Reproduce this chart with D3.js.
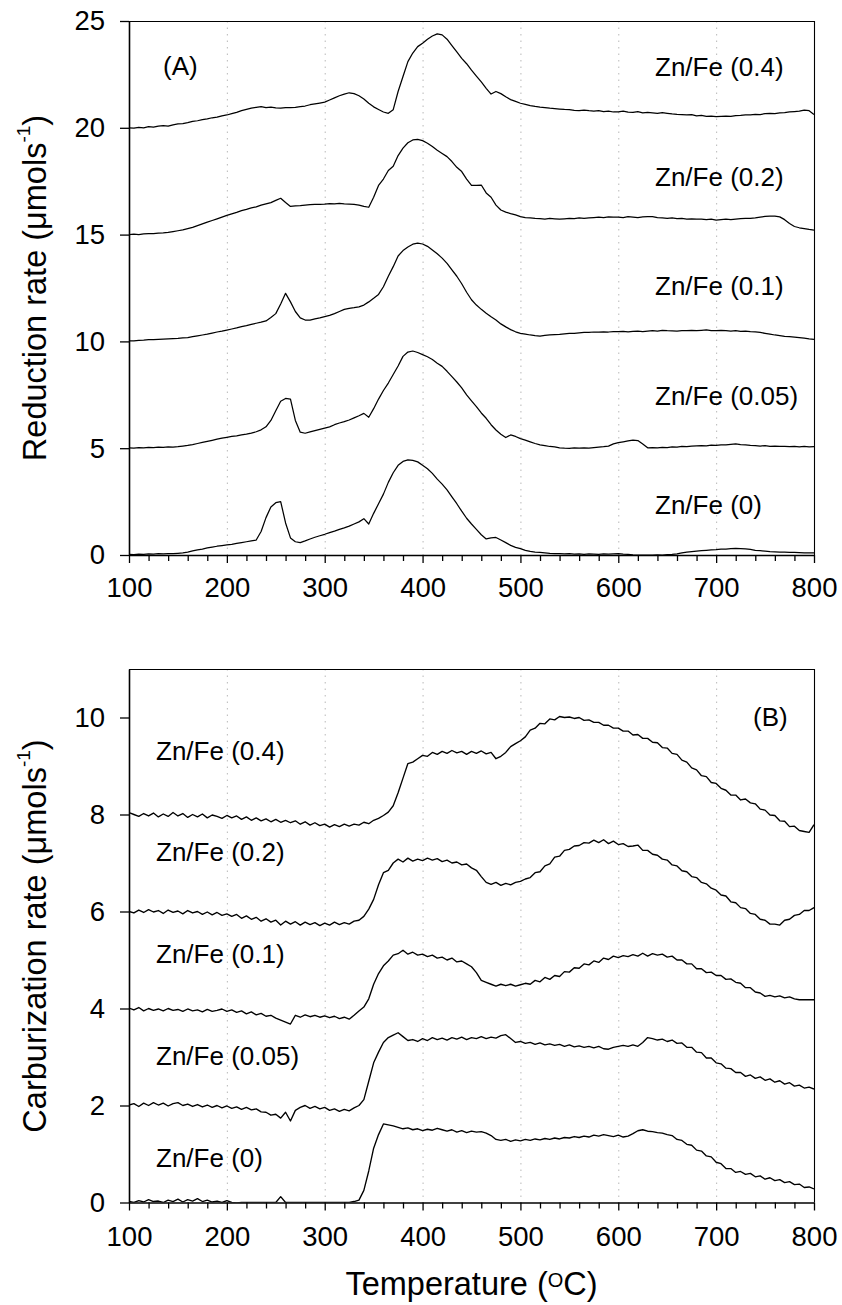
<!DOCTYPE html>
<html>
<head>
<meta charset="utf-8">
<script src="https://cdn.jsdelivr.net/npm/d3@7"></script>
<style>
  html, body { margin: 0; padding: 0; background: #fff; }
  svg { display: block; }
</style>
</head>
<body>
<svg id="chart" width="842" height="1305"></svg>
<script>
// Temperature grid (°C) shared by every trace
const temperature = [
  100,105,110,115,120,125,130,135,140,145,
  150,155,160,165,170,175,180,185,190,195,
  200,205,210,215,220,225,230,235,240,245,
  250,255,260,265,270,275,280,285,290,295,
  300,305,310,315,320,325,330,335,340,345,
  350,355,360,365,370,375,380,385,390,395,
  400,405,410,415,420,425,430,435,440,445,
  450,455,460,465,470,475,480,485,490,495,
  500,505,510,515,520,525,530,535,540,545,
  550,555,560,565,570,575,580,585,590,595,
  600,605,610,615,620,625,630,635,640,645,
  650,655,660,665,670,675,680,685,690,695,
  700,705,710,715,720,725,730,735,740,745,
  750,755,760,765,770,775,780,785,790,795,
  800
];

// (A) Reduction rate, curves stacked with offsets of 5
const redZn040 = [
  20.0,19.98,20.02,20.0,20.05,20.03,20.08,20.1,20.08,20.14,
  20.18,20.2,20.24,20.3,20.33,20.38,20.42,20.47,20.5,20.56,
  20.6,20.66,20.72,20.8,20.86,20.92,20.96,20.99,20.94,20.97,
  20.93,20.92,20.95,20.94,20.96,20.99,21.02,21.08,21.12,21.16,
  21.2,21.3,21.4,21.5,21.58,21.64,21.6,21.5,21.35,21.15,
  20.98,20.86,20.74,20.68,20.85,21.7,22.4,23.1,23.5,23.8,
  23.96,24.15,24.3,24.4,24.35,24.15,23.85,23.55,23.25,23.0,
  22.7,22.42,22.15,21.85,21.58,21.7,21.6,21.45,21.32,21.24,
  21.15,21.1,21.04,21.0,20.97,20.95,20.92,20.9,20.88,20.86,
  20.85,20.82,20.8,20.83,20.8,20.78,20.8,20.76,20.78,20.74,
  20.75,20.78,20.73,20.72,20.76,20.7,20.72,20.7,20.68,20.71,
  20.68,20.65,20.63,20.62,20.6,20.62,20.56,20.58,20.54,20.55,
  20.52,20.54,20.55,20.53,20.57,20.58,20.6,20.6,20.63,20.62,
  20.66,20.68,20.66,20.7,20.71,20.74,20.76,20.78,20.83,20.8,
  20.62
];
const redZn020 = [
  15.0,15.02,15.0,15.03,15.04,15.05,15.07,15.08,15.1,15.14,
  15.18,15.22,15.28,15.34,15.42,15.5,15.58,15.66,15.74,15.82,
  15.9,15.97,16.04,16.12,16.18,16.25,16.3,16.38,16.44,16.5,
  16.6,16.7,16.5,16.32,16.35,16.36,16.38,16.4,16.42,16.42,
  16.43,16.45,16.44,16.46,16.44,16.43,16.42,16.38,16.32,16.28,
  16.75,17.3,17.6,18.0,18.2,18.7,19.05,19.3,19.43,19.46,
  19.4,19.28,19.12,18.95,18.8,18.65,18.42,18.15,17.95,17.6,
  17.3,17.3,17.32,16.95,16.75,16.38,16.15,16.05,15.98,15.92,
  15.84,15.8,15.78,15.76,15.75,15.73,15.76,15.74,15.72,15.74,
  15.76,15.75,15.78,15.76,15.78,15.8,15.82,15.8,15.83,15.82,
  15.82,15.8,15.84,15.82,15.8,15.83,15.84,15.84,15.8,15.78,
  15.76,15.78,15.75,15.76,15.73,15.74,15.72,15.73,15.7,15.72,
  15.68,15.7,15.72,15.7,15.73,15.75,15.76,15.76,15.78,15.82,
  15.85,15.86,15.87,15.83,15.7,15.52,15.38,15.32,15.28,15.24,
  15.21
];
const redZn010 = [
  10.03,10.02,10.05,10.06,10.08,10.08,10.1,10.11,10.12,10.13,
  10.14,10.16,10.18,10.22,10.26,10.3,10.34,10.39,10.44,10.48,
  10.53,10.58,10.63,10.69,10.74,10.8,10.85,10.9,10.96,11.12,
  11.3,11.75,12.25,11.85,11.4,11.1,11.0,11.0,11.05,11.1,
  11.16,11.22,11.3,11.4,11.5,11.55,11.58,11.62,11.7,11.85,
  12.02,12.2,12.56,13.05,13.5,14.0,14.25,14.42,14.55,14.6,
  14.56,14.45,14.28,14.1,13.9,13.65,13.35,13.05,12.7,12.3,
  11.95,11.7,11.5,11.32,11.15,11.0,10.82,10.68,10.55,10.45,
  10.38,10.34,10.3,10.27,10.25,10.28,10.3,10.32,10.33,10.35,
  10.37,10.38,10.4,10.42,10.42,10.44,10.43,10.45,10.44,10.46,
  10.46,10.47,10.45,10.47,10.48,10.46,10.48,10.5,10.48,10.52,
  10.5,10.49,10.48,10.5,10.5,10.52,10.5,10.52,10.54,10.5,
  10.5,10.52,10.5,10.48,10.5,10.47,10.48,10.46,10.45,10.42,
  10.38,10.34,10.3,10.27,10.24,10.22,10.2,10.18,10.15,10.12,
  10.1
];
const redZn005 = [
  5.02,5.0,5.03,5.02,5.04,5.03,5.05,5.04,5.06,5.05,
  5.07,5.1,5.13,5.17,5.22,5.27,5.32,5.37,5.42,5.47,
  5.51,5.55,5.58,5.62,5.66,5.71,5.77,5.86,6.0,6.3,
  6.75,7.2,7.33,7.3,6.3,5.75,5.7,5.76,5.82,5.88,
  5.94,6.0,6.1,6.18,6.24,6.32,6.42,6.52,6.63,6.45,
  6.85,7.3,7.7,8.05,8.45,8.85,9.3,9.5,9.55,9.48,
  9.38,9.28,9.15,8.98,8.83,8.6,8.35,8.1,7.82,7.5,
  7.22,6.95,6.65,6.4,6.1,5.85,5.65,5.5,5.62,5.55,
  5.45,5.38,5.3,5.22,5.16,5.12,5.08,5.06,5.02,5.0,
  4.99,5.01,5.0,5.02,5.0,5.03,5.05,5.07,5.1,5.2,
  5.26,5.3,5.34,5.38,5.36,5.2,5.02,5.03,5.02,5.04,
  5.03,5.06,5.05,5.08,5.07,5.1,5.11,5.12,5.11,5.14,
  5.13,5.15,5.16,5.18,5.2,5.17,5.15,5.13,5.12,5.1,
  5.12,5.09,5.1,5.08,5.09,5.07,5.08,5.06,5.08,5.06,
  5.07
];
const redZn000 = [
  0.03,0.02,0.04,0.03,0.05,0.04,0.06,0.05,0.07,0.06,
  0.08,0.1,0.13,0.19,0.24,0.28,0.33,0.37,0.41,0.44,
  0.47,0.5,0.54,0.58,0.62,0.66,0.7,1.1,1.75,2.25,
  2.45,2.5,1.5,0.8,0.62,0.58,0.66,0.75,0.83,0.9,
  0.97,1.05,1.12,1.2,1.27,1.35,1.45,1.55,1.7,1.45,
  1.95,2.4,2.85,3.4,3.85,4.2,4.38,4.45,4.43,4.36,
  4.2,4.04,3.82,3.55,3.32,3.05,2.72,2.4,2.05,1.72,
  1.45,1.2,0.95,0.75,0.8,0.82,0.7,0.58,0.45,0.36,
  0.3,0.22,0.17,0.14,0.12,0.1,0.08,0.07,0.06,0.05,
  0.06,0.04,0.05,0.03,0.05,0.04,0.03,0.05,0.04,0.05,
  0.06,0.04,0.03,0.01,0.0,0.0,0.0,0.0,0.01,0.0,
  0.02,0.03,0.05,0.1,0.14,0.16,0.18,0.2,0.22,0.24,
  0.25,0.27,0.28,0.3,0.31,0.3,0.29,0.26,0.22,0.2,
  0.18,0.16,0.15,0.14,0.13,0.12,0.12,0.11,0.1,0.1,
  0.1
];

// (B) Carburization rate, curves stacked with offsets of 2
const carZn040 = [
  8.04,8.0,7.96,8.02,7.97,8.03,7.95,8.01,7.96,8.04,
  7.97,8.02,7.94,8.0,7.95,8.01,7.93,7.99,7.96,7.92,
  7.98,7.93,7.97,7.9,7.95,7.88,7.93,7.87,7.91,7.85,
  7.9,7.84,7.88,7.83,7.87,7.8,7.85,7.78,7.83,7.77,
  7.8,7.74,7.79,7.75,7.8,7.76,7.8,7.78,7.84,7.81,
  7.88,7.92,7.98,8.05,8.18,8.45,8.75,9.05,9.08,9.15,
  9.22,9.2,9.28,9.24,9.3,9.26,9.32,9.27,9.3,9.24,
  9.3,9.26,9.31,9.25,9.28,9.15,9.2,9.28,9.4,9.46,
  9.52,9.6,9.74,9.78,9.88,9.87,9.97,9.95,10.02,10.0,
  10.01,9.98,10.0,9.94,9.95,9.9,9.9,9.84,9.84,9.78,
  9.78,9.72,9.72,9.64,9.65,9.57,9.57,9.49,9.48,9.38,
  9.37,9.26,9.24,9.12,9.08,8.96,8.92,8.8,8.78,8.66,
  8.64,8.54,8.5,8.4,8.4,8.3,8.32,8.24,8.22,8.11,
  8.09,7.99,7.98,7.87,7.86,7.75,7.76,7.67,7.65,7.63,
  7.79
];
const carZn020 = [
  6.0,5.97,6.03,5.98,6.04,5.99,6.02,5.96,6.03,5.98,
  6.01,5.95,6.02,5.97,6.0,5.94,5.99,5.93,5.98,5.92,
  5.95,5.9,5.94,5.86,5.91,5.84,5.88,5.8,5.85,5.78,
  5.82,5.72,5.8,5.74,5.79,5.72,5.78,5.73,5.77,5.71,
  5.76,5.72,5.78,5.73,5.77,5.74,5.8,5.82,5.9,6.05,
  6.25,6.55,6.8,6.85,7.0,7.08,7.02,7.1,7.04,7.08,
  7.05,7.1,7.06,7.09,7.03,7.06,7.0,7.02,6.96,6.98,
  6.9,6.85,6.72,6.6,6.56,6.6,6.54,6.58,6.55,6.6,
  6.62,6.67,6.7,6.8,6.82,6.94,6.98,7.12,7.14,7.26,
  7.28,7.35,7.36,7.42,7.41,7.47,7.42,7.48,7.4,7.45,
  7.38,7.4,7.34,7.35,7.37,7.26,7.26,7.18,7.16,7.08,
  7.06,6.96,6.94,6.84,6.82,6.72,6.7,6.6,6.57,6.48,
  6.44,6.34,6.32,6.2,6.18,6.08,6.06,5.96,5.94,5.84,
  5.82,5.74,5.74,5.72,5.82,5.84,5.92,5.94,6.02,6.02,
  6.08
];
const carZn010 = [
  4.01,3.97,4.02,3.95,4.0,3.96,3.99,3.95,4.0,3.96,
  3.98,3.94,3.99,3.95,3.97,3.93,3.98,3.94,3.96,3.99,
  3.94,3.97,3.92,3.95,3.89,3.93,3.87,3.9,3.84,3.86,
  3.8,3.76,3.72,3.68,3.86,3.82,3.87,3.83,3.86,3.82,
  3.85,3.81,3.84,3.79,3.82,3.78,3.86,3.95,4.03,4.2,
  4.5,4.72,4.88,4.98,5.1,5.13,5.2,5.12,5.16,5.1,
  5.12,5.07,5.1,5.04,5.06,5.0,5.04,4.96,4.98,4.92,
  4.86,4.74,4.58,4.54,4.5,4.46,4.5,4.47,4.5,4.46,
  4.49,4.52,4.5,4.58,4.55,4.64,4.6,4.68,4.66,4.76,
  4.75,4.84,4.83,4.92,4.9,4.98,4.95,5.04,5.01,5.08,
  5.05,5.09,5.07,5.11,5.08,5.14,5.08,5.13,5.1,5.12,
  5.06,5.08,5.0,5.0,4.92,4.92,4.82,4.82,4.74,4.75,
  4.68,4.68,4.6,4.61,4.54,4.52,4.43,4.43,4.34,4.32,
  4.25,4.27,4.24,4.26,4.22,4.24,4.2,4.18,4.18,4.18,
  4.18
];
const carZn005 = [
  2.01,2.04,1.98,2.05,2.0,2.06,2.01,2.05,1.99,2.04,
  2.06,2.0,2.03,1.98,2.02,1.97,2.01,1.96,2.0,1.95,
  1.99,1.94,1.97,1.92,1.96,1.91,1.93,1.87,1.86,1.8,
  1.82,1.74,1.86,1.68,1.9,1.96,2.0,1.94,1.98,1.93,
  1.96,1.9,1.93,1.88,1.92,1.89,1.95,2.0,2.12,2.5,
  2.88,3.1,3.3,3.4,3.45,3.5,3.42,3.34,3.36,3.32,
  3.38,3.34,3.4,3.36,3.39,3.35,3.4,3.37,3.41,3.36,
  3.4,3.38,3.42,3.38,3.41,3.39,3.44,3.46,3.38,3.3,
  3.32,3.28,3.3,3.26,3.29,3.25,3.27,3.24,3.26,3.22,
  3.25,3.21,3.23,3.2,3.22,3.19,3.22,3.17,3.16,3.2,
  3.22,3.24,3.22,3.25,3.22,3.3,3.4,3.38,3.35,3.37,
  3.32,3.35,3.28,3.29,3.2,3.2,3.1,3.09,2.98,2.98,
  2.88,2.86,2.77,2.76,2.68,2.68,2.6,2.63,2.56,2.59,
  2.52,2.55,2.48,2.51,2.44,2.47,2.4,2.42,2.36,2.38,
  2.34
];
const carZn000 = [
  0.02,0.0,0.04,0.01,0.06,0.02,0.03,0.0,0.05,0.02,
  0.07,0.01,0.06,0.03,0.08,0.02,0.05,0.01,0.03,0.0,
  0.04,0.0,-0.01,0.0,0.0,0.0,0.0,0.0,0.0,0.0,
  0.0,0.12,0.0,0.0,0.0,0.0,0.0,0.0,0.0,0.0,
  0.0,0.0,0.0,0.0,0.0,0.0,0.02,0.05,0.25,0.65,
  1.12,1.4,1.62,1.6,1.58,1.55,1.52,1.54,1.5,1.52,
  1.48,1.51,1.49,1.53,1.5,1.47,1.5,1.45,1.48,1.44,
  1.47,1.45,1.46,1.43,1.38,1.3,1.28,1.3,1.26,1.29,
  1.27,1.3,1.28,1.31,1.29,1.32,1.3,1.33,1.31,1.34,
  1.33,1.36,1.34,1.37,1.35,1.39,1.37,1.4,1.38,1.36,
  1.39,1.35,1.37,1.42,1.48,1.5,1.47,1.46,1.44,1.43,
  1.4,1.38,1.3,1.28,1.2,1.18,1.08,1.06,0.96,0.94,
  0.83,0.8,0.7,0.7,0.62,0.64,0.58,0.6,0.53,0.55,
  0.48,0.51,0.45,0.47,0.41,0.43,0.37,0.38,0.31,0.32,
  0.28
];

const seriesLabels = ["Zn/Fe (0.4)", "Zn/Fe (0.2)", "Zn/Fe (0.1)", "Zn/Fe (0.05)", "Zn/Fe (0)"];
const majorTemps = [100, 200, 300, 400, 500, 600, 700, 800];
const minorTemps = [120,140,160,180,220,240,260,280,320,340,360,380,420,440,460,480,
                    520,540,560,580,620,640,660,680,720,740,760,780];
const gridTemps = [200, 300, 400, 500, 600, 700];
const reductionTicks = [0, 5, 10, 15, 20, 25];
const carburizationTicks = [0, 2, 4, 6, 8, 10];

const FONT = "'Liberation Sans', Arial, Helvetica, sans-serif";
const svg = d3.select("#chart").attr("font-family", FONT);

const plotLeft = 129, plotRight = 814;
const x = d3.scaleLinear().domain([100, 800]).range([plotLeft, plotRight]);

const panels = [
  {
    key: "A", tag: "(A)", tagPos: [163, 75],
    series: [redZn040, redZn020, redZn010, redZn005, redZn000],
    yDomain: [0, 25], yTicks: reductionTicks, top: 21, bottom: 555,
    labelX: 655, labelBaselines: [76, 185.5, 295, 404.5, 514],
    xPad: 14, traceWidth: 1.25,
    title: "Reduction rate (\u03bcmols", titleY: 288
  },
  {
    key: "B", tag: "(B)", tagPos: [753, 726],
    series: [carZn040, carZn020, carZn010, carZn005, carZn000],
    yDomain: [0, 11], yTicks: carburizationTicks, top: 669, bottom: 1202.5,
    labelX: 156, labelBaselines: [759.5, 861, 963, 1065, 1166.5],
    xPad: 16, traceWidth: 1.35,
    title: "Carburization rate (\u03bcmols", titleY: 936
  }
];

panels.forEach(p => {
  const y = d3.scaleLinear().domain(p.yDomain).range([p.bottom, p.top]);
  const g = svg.append("g").attr("class", "panel-" + p.key);

  // dotted vertical grid
  g.append("g").selectAll("line").data(gridTemps).join("line")
    .attr("x1", d => x(d) + 0.5).attr("x2", d => x(d) + 0.5)
    .attr("y1", p.top).attr("y2", p.bottom)
    .attr("stroke", "#b8b8b8").attr("stroke-width", 1)
    .attr("stroke-dasharray", "1.5,5");

  // traces
  const clipId = "clip-" + p.key;
  svg.append("clipPath").attr("id", clipId).append("rect")
    .attr("x", plotLeft).attr("y", p.top)
    .attr("width", plotRight - plotLeft).attr("height", p.bottom - p.top);
  const line = d3.line().x((d, i) => x(temperature[i])).y(d => y(d));
  g.append("g").attr("clip-path", `url(#${clipId})`)
    .selectAll("path").data(p.series).join("path")
    .attr("d", vals => line(vals))
    .attr("fill", "none").attr("stroke", "#000")
    .attr("stroke-width", p.traceWidth).attr("stroke-linejoin", "round");

  // minor ticks on the temperature axis
  g.append("g").attr("transform", `translate(0,${p.bottom})`)
    .call(d3.axisBottom(x).tickValues(minorTemps).tickSize(6).tickFormat(""))
    .call(a => a.select(".domain").remove())
    .call(a => a.selectAll("line").attr("stroke-width", 1.3));

  // major temperature axis
  g.append("g").attr("transform", `translate(0,${p.bottom})`)
    .call(d3.axisBottom(x).tickValues(majorTemps).tickSize(8).tickSizeOuter(0)
      .tickPadding(p.xPad).tickFormat(d3.format("d")))
    .call(a => a.attr("font-family", FONT).attr("font-size", 27.5))
    .call(a => a.select(".domain").attr("stroke-width", 1.6))
    .call(a => a.selectAll(".tick line").attr("stroke-width", 1.3))
    .call(a => a.selectAll(".tick text").attr("fill", "#000"));

  // rate axis
  g.append("g").attr("transform", `translate(${plotLeft},0)`)
    .call(d3.axisLeft(y).tickValues(p.yTicks).tickSize(9).tickSizeOuter(0).tickPadding(15))
    .call(a => a.attr("font-family", FONT).attr("font-size", 27.5))
    .call(a => a.select(".domain").attr("stroke-width", 1.6))
    .call(a => a.selectAll(".tick line").attr("stroke-width", 1.3))
    .call(a => a.selectAll(".tick text").attr("fill", "#000"));

  // top and right frame
  g.append("path")
    .attr("d", `M${plotLeft},${p.top + 0.5}H${plotRight + 0.5}V${p.bottom}`)
    .attr("fill", "none").attr("stroke", "#000").attr("stroke-width", 1.1);

  // series labels
  g.append("g").selectAll("text").data(seriesLabels).join("text")
    .attr("x", p.labelX).attr("y", (d, i) => p.labelBaselines[i])
    .attr("font-size", 26).attr("fill", "#000")
    .text(d => d);

  g.append("text").attr("x", p.tagPos[0]).attr("y", p.tagPos[1])
    .attr("font-size", 26).attr("fill", "#000").text(p.tag);

  // rotated axis title with superscript -1
  const t = g.append("text")
    .attr("transform", `translate(46,${p.titleY}) rotate(-90)`)
    .attr("text-anchor", "middle").attr("font-size", 32.5).attr("fill", "#000");
  t.append("tspan").text(p.title);
  t.append("tspan").attr("font-size", 19).attr("dy", -16).text("-1");
  t.append("tspan").attr("dy", 16).text(")");
});

// temperature axis title
const xt = svg.append("text")
  .attr("x", (plotLeft + plotRight) / 2).attr("y", 1295)
  .attr("text-anchor", "middle").attr("font-size", 32.5).attr("fill", "#000");
xt.append("tspan").text("Temperature (");
xt.append("tspan").attr("font-size", 20).attr("dy", -8).text("O");
xt.append("tspan").attr("dy", 8).text("C)");
</script>
</body>
</html>
